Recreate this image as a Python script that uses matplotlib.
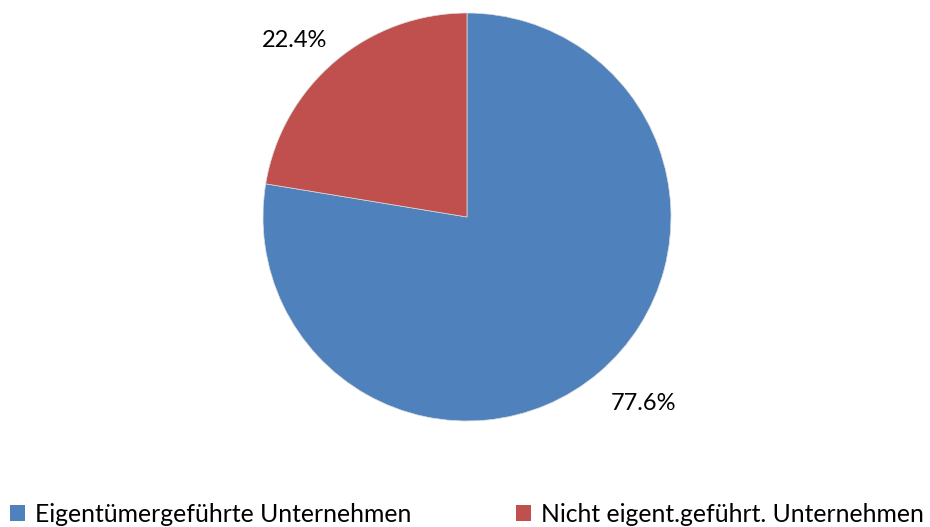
import numpy as np
import matplotlib.pyplot as plt
from matplotlib.patches import Patch

labels = ["Eigentümergeführte Unternehmen", "Nicht eigent.geführt. Unternehmen"]
shares = [77.6, 22.4]
colors = ["#4F81BD", "#C0504D"]

plt.rcParams["font.family"] = ["Lato", "DejaVu Sans"]

W, H = 930, 527
fig = plt.figure(figsize=(W / 100, H / 100), dpi=100)
cx, cy, r = 467, 217, 204
ax = fig.add_axes([(cx - r) / W, (H - cy - r) / H, 2 * r / W, 2 * r / H])

wedges, _, autotexts = ax.pie(
    shares, colors=colors, startangle=90, counterclock=False,
    autopct="%.1f%%", pctdistance=1.23, radius=1.0,
    wedgeprops=dict(linewidth=0.5, edgecolor="#dddddd"),
    textprops=dict(fontsize=17, color="black"),
)
# nudge the percentage labels to where the original puts them
for t, (ang, dist) in zip(autotexts, [(-46.6, 1.26), (134.3, 1.21)]):
    a = np.deg2rad(ang)
    t.set_position((dist * np.cos(a), dist * np.sin(a)))
ax.set_xlim(-1, 1)
ax.set_ylim(-1, 1)
ax.set_aspect("equal")

for lab, col, x0 in zip(labels, colors, [10, 516]):
    fig.legend([Patch(facecolor=col, edgecolor="none")], [lab], loc="center left",
               bbox_to_anchor=(x0 / W, (H - 514) / H), frameon=False, fontsize=17.8,
               handlelength=0.6, handleheight=0.6, handletextpad=0.4,
               borderaxespad=0, borderpad=0)

fig.savefig("out.png", dpi=100)
